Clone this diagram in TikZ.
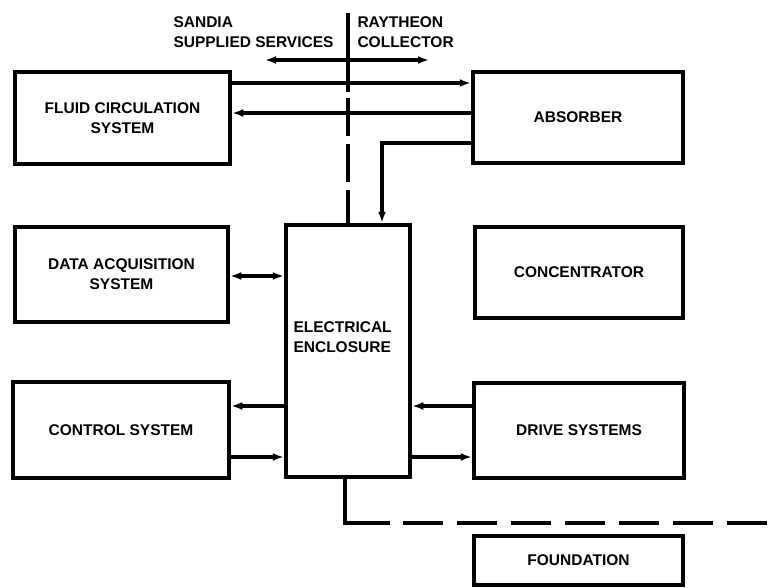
\documentclass[tikz,border=0pt]{standalone}
\usepackage{fontspec}
\setmainfont{Liberation Sans}
\usetikzlibrary{arrows.meta}
\usetikzlibrary{positioning}

\begin{document}
\begin{tikzpicture}[
  x=1pt, y=-1pt,
  every node/.style={font=\fontsize{15.5}{20}\selectfont\bfseries, align=center},
  blockbox/.style={draw, line width=4.5pt, inner sep=0pt},
  conn/.style={draw, line width=3.5pt, -{Latex[length=11pt,width=8pt]}},
  link/.style={draw, line width=3.5pt},
  divider/.style={draw, line width=3.5pt, dash pattern=on 38pt off 8pt}
]
\useasboundingbox (0,0) rectangle (781,588);

% blocks
\node[blockbox, minimum width=215pt, minimum height=92pt] (fluid) at (122.5,118) {FLUID CIRCULATION\\SYSTEM};
\node[blockbox, minimum width=210pt, minimum height=91pt] (absorber) at (578,117.5) {ABSORBER};
\node[blockbox, minimum width=213pt, minimum height=95pt] (daq) at (121.5,274.5) {DATA ACQUISITION\\SYSTEM};
\node[blockbox, minimum width=208pt, minimum height=91pt] (conc) at (579,272.5) {CONCENTRATOR};
\node[blockbox, minimum width=124pt, minimum height=252pt] (encl) at (348,351) {};
\node[anchor=west, align=left] (encltext) at (290,337) {ELECTRICAL\\ENCLOSURE};
\node[blockbox, minimum width=216pt, minimum height=96pt] (control) at (121,430) {CONTROL SYSTEM};
\node[blockbox, minimum width=210pt, minimum height=95pt] (drive) at (579,430.5) {DRIVE SYSTEMS};
\node[blockbox, minimum width=209pt, minimum height=49pt] (found) at (578.5,560.5) {FOUNDATION};

% header
\node[anchor=west, align=left] (sandia) at (170,32) {SANDIA\\SUPPLIED SERVICES};
\node[anchor=west, align=left] (raytheon) at (354,32) {RAYTHEON\\COLLECTOR};
\coordinate (hl) at (265,60);
\coordinate (hr) at (429,60);
\draw[link, {Latex[length=11pt,width=8pt]}-{Latex[length=11pt,width=8pt]}] (hl) -- (hr);

% divider between supplied services and collector
\coordinate (dtop) at (348,13);
\coordinate (dmid) at (348,92);
\draw[link] (dtop) -- (dmid);
\draw[divider] ([yshift=-6pt]dmid) -- (encl.north);

% connector rows
\coordinate (r1) at (0,83);
\coordinate (r2) at (0,113);
\coordinate (r3) at (0,143);
\coordinate (c3) at (382,0);
\coordinate (r4) at (0,276);
\coordinate (r5) at (0,406);
\coordinate (r6) at (0,457);

\draw[conn] (fluid.east |- r1) -- (absorber.west |- r1);
\draw[conn] (absorber.west |- r2) -- (fluid.east |- r2);
\draw[conn] (absorber.west |- r3) -| (c3 |- encl.north);
\draw[conn, {Latex[length=11pt,width=8pt]}-{Latex[length=11pt,width=8pt]}] (daq.east |- r4) -- (encl.west |- r4);
\draw[conn] (encl.west |- r5) -- (control.east |- r5);
\draw[conn] (control.east |- r6) -- (encl.west |- r6);
\draw[conn] (drive.west |- r5) -- (encl.east |- r5);
\draw[conn] (encl.east |- r6) -- (drive.west |- r6);

% foundation link
\coordinate (fb) at (345,523);
\coordinate (fend) at (781,523);
\draw[link] (fb |- encl.south) -- (fb) -- ++(45,0);
\draw[link, dash pattern=on 40pt off 14pt] ([xshift=58pt]fb) -- (fend);
\end{tikzpicture}
\end{document}
